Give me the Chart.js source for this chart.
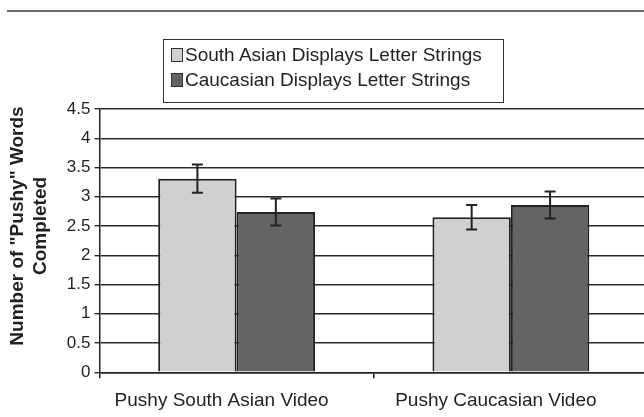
<!DOCTYPE html>
<html>
<head>
<meta charset="utf-8">
<script src="https://cdn.jsdelivr.net/npm/chart.js@4/dist/chart.umd.min.js"></script>
<style>
  body { margin: 0; background: #fff; }
  #wrap { position: relative; width: 644px; height: 417px; overflow: hidden; font-family: "Liberation Sans", Arial, sans-serif; color: #231f20; }
  #rule { position: absolute; left: 7px; right: 0; top: 10px; height: 2px; background: #6b6b6b; }
  #legend { position: absolute; left: 163px; top: 39px; width: 339px; height: 60px; border: 1.5px solid #333; padding-top: 2px; box-sizing: content-box; }
  .item { height: 25px; line-height: 25px; font-size: 19px; white-space: nowrap; display: flex; align-items: center; }
  .swatch { width: 10px; height: 12px; border: 1.5px solid #333; margin-left: 7px; margin-right: 2px; }
  canvas { position: absolute; left: 0; top: 0; }
</style>
</head>
<body>
<div id="wrap">
  <div id="rule"></div>
  <canvas id="chart" width="648" height="417"></canvas>
  <div id="legend"></div>
</div>
<script>
// data
const categories = ['Pushy South Asian Video', 'Pushy Caucasian Video'];
const seriesLabels = ['South Asian Displays Letter Strings', 'Caucasian Displays Letter Strings'];
const southAsianMeans = [3.31, 2.65];
const southAsianErrors = [0.24, 0.21];
const caucasianMeans = [2.74, 2.86];
const caucasianErrors = [0.23, 0.23];
const yTickValues = [0, 0.5, 1, 1.5, 2, 2.5, 3, 3.5, 4, 4.5];
const yTitleLines = ['Number of "Pushy" Words', 'Completed'];

const FONT = '"Liberation Sans", Arial, sans-serif';
const INK = '#231f20';

// error bars drawn from the y scale
const errorBars = {
    id: 'errorBars',
    afterDatasetsDraw(chart) {
        const ctx = chart.ctx;
        const y = chart.scales.y;
        ctx.save();
        ctx.strokeStyle = '#222';
        ctx.lineWidth = 2;
        chart.data.datasets.forEach((ds, i) => {
            const meta = chart.getDatasetMeta(i);
            meta.data.forEach((bar, j) => {
                const v = ds.data[j];
                const e = ds.errors[j];
                const top = y.getPixelForValue(v + e);
                const bot = y.getPixelForValue(v - e);
                ctx.beginPath();
                ctx.moveTo(bar.x, top); ctx.lineTo(bar.x, bot);
                ctx.moveTo(bar.x - 5.5, top); ctx.lineTo(bar.x + 5.5, top);
                ctx.moveTo(bar.x - 5.5, bot); ctx.lineTo(bar.x + 5.5, bot);
                ctx.stroke();
            });
        });
        ctx.restore();
    }
};

// two line bold axis title, placed a bit above the plot centre like the original
const yTitle = {
    id: 'yTitle',
    afterDraw(chart) {
        const ctx = chart.ctx;
        ctx.save();
        ctx.font = 'bold 19px ' + FONT;
        ctx.fillStyle = INK;
        ctx.textAlign = 'center';
        ctx.textBaseline = 'middle';
        ctx.translate(0, 226);
        ctx.rotate(-Math.PI / 2);
        ctx.fillText(yTitleLines[0], 0, 18);
        ctx.fillText(yTitleLines[1], 0, 41);
        ctx.restore();
    }
};

const chart = new Chart(document.getElementById('chart'), {
    type: 'bar',
    data: {
        labels: categories,
        datasets: [
            {
                label: seriesLabels[0],
                data: southAsianMeans,
                errors: southAsianErrors,
                backgroundColor: '#cfd0d2',
                borderColor: '#222',
                borderWidth: 2
            },
            {
                label: seriesLabels[1],
                data: caucasianMeans,
                errors: caucasianErrors,
                backgroundColor: '#646464',
                borderColor: '#222',
                borderWidth: 2
            }
        ]
    },
    options: {
        responsive: false,
        animation: false,
        devicePixelRatio: 1,
        layout: { padding: { top: 109, right: 0, bottom: 0, left: 0 } },
        datasets: { bar: { barPercentage: 1, categoryPercentage: 0.572 } },
        plugins: {
            legend: { display: false },
            tooltip: { enabled: false }
        },
        scales: {
            x: {
                afterFit: s => { s.height = 44.7; },
                grid: { offset: true, drawOnChartArea: false, drawTicks: true, tickLength: 6, color: '#222', lineWidth: 1.5 },
                border: { display: true, color: '#222', width: 1.5 },
                ticks: { color: INK, font: { family: FONT, size: 19 }, padding: 11, labelOffset: -15, maxRotation: 0 }
            },
            y: {
                min: 0,
                max: 4.5,
                afterBuildTicks: s => { s.ticks = yTickValues.map(v => ({ value: v })); },
                afterFit: s => { s.width = 99.5; },
                grid: { color: '#2a2a2a', lineWidth: 1.4, tickLength: 5 },
                border: { display: true, color: '#222', width: 1.5 },
                ticks: { color: INK, font: { family: FONT, size: 17 }, padding: 4, callback: v => String(v) }
            }
        }
    },
    plugins: [errorBars, yTitle]
});

// html legend from the datasets
const legend = document.getElementById('legend');
chart.data.datasets.forEach(ds => {
    const row = document.createElement('div');
    row.className = 'item';
    row.innerHTML = `<span class="swatch" style="background:${ds.backgroundColor}"></span><span>${ds.label}</span>`;
    legend.appendChild(row);
});
</script>
</body>
</html>
